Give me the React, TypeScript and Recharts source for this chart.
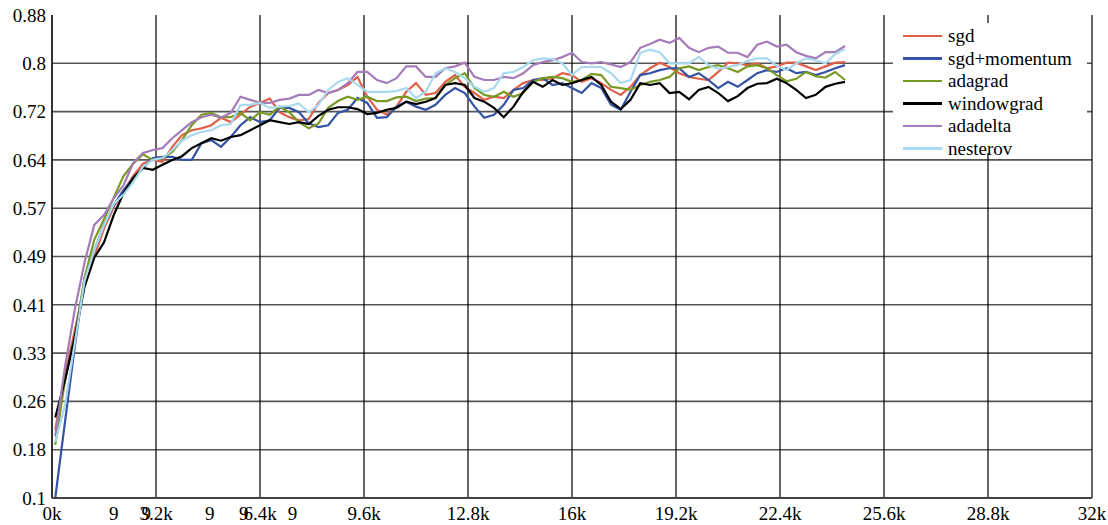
import { LineChart, Line, XAxis, YAxis, CartesianGrid, Legend } from 'recharts';

// iteration at which each accuracy sample was taken
const iterations = Array.from({ length: 82 }, (_, i) => 100 + i * 300);

const sgd = [
  0.21, 0.3, 0.37, 0.445, 0.49, 0.535, 0.57, 0.595, 0.62, 0.64,
  0.646, 0.643, 0.667, 0.686, 0.694, 0.697, 0.702, 0.714, 0.707, 0.719,
  0.732, 0.738, 0.745, 0.723, 0.715, 0.71, 0.712, 0.738, 0.754, 0.759,
  0.767, 0.78, 0.748, 0.727, 0.719, 0.732, 0.756, 0.77, 0.751, 0.754,
  0.772, 0.783, 0.764, 0.754, 0.743, 0.748, 0.746, 0.759, 0.77, 0.775,
  0.775, 0.778, 0.786, 0.783, 0.772, 0.778, 0.77, 0.759, 0.751, 0.764,
  0.783, 0.794, 0.803, 0.796, 0.786, 0.78, 0.777, 0.775, 0.788, 0.803,
  0.802, 0.799, 0.802, 0.794, 0.797, 0.803, 0.803, 0.797, 0.791, 0.797,
  0.803, 0.804,
];

const sgdMomentum = [
  0.1, 0.223, 0.344, 0.455, 0.5, 0.541, 0.573, 0.597, 0.617, 0.633,
  0.649, 0.651, 0.651, 0.646, 0.646, 0.673, 0.678, 0.667, 0.683, 0.702,
  0.715, 0.707, 0.71, 0.73, 0.73, 0.723, 0.705, 0.699, 0.702, 0.722,
  0.727, 0.746, 0.738, 0.714, 0.715, 0.732, 0.74, 0.732, 0.727, 0.735,
  0.751, 0.762, 0.754, 0.732, 0.714, 0.719, 0.735, 0.759, 0.762, 0.775,
  0.778, 0.767, 0.77, 0.762, 0.754, 0.77, 0.762, 0.735, 0.727, 0.756,
  0.783, 0.786, 0.791, 0.794, 0.794, 0.78, 0.786, 0.775, 0.762, 0.772,
  0.764, 0.775, 0.786, 0.791, 0.788, 0.794, 0.786, 0.788, 0.783, 0.788,
  0.794, 0.799,
];

const adagrad = [
  0.186, 0.29, 0.36, 0.455, 0.517, 0.55, 0.585, 0.62, 0.64, 0.655,
  0.646, 0.649, 0.659, 0.678, 0.702, 0.719, 0.722, 0.715, 0.715, 0.722,
  0.71, 0.723, 0.719, 0.732, 0.723, 0.707, 0.697, 0.705, 0.73, 0.741,
  0.748, 0.743, 0.748, 0.741, 0.741, 0.747, 0.748, 0.741, 0.745, 0.746,
  0.767, 0.778, 0.786, 0.762, 0.751, 0.748, 0.756, 0.748, 0.754, 0.772,
  0.778, 0.78, 0.778, 0.772, 0.775, 0.785, 0.783, 0.764, 0.762, 0.759,
  0.767, 0.772, 0.775, 0.78, 0.794, 0.797, 0.791, 0.796, 0.799, 0.794,
  0.788, 0.797, 0.799, 0.794, 0.783, 0.773, 0.777, 0.788, 0.781, 0.779,
  0.788, 0.775,
];

const windowgrad = [
  0.23, 0.29, 0.36, 0.441, 0.488, 0.513, 0.557, 0.592, 0.617, 0.633,
  0.63, 0.638, 0.646, 0.652, 0.665, 0.673, 0.681, 0.677, 0.683, 0.686,
  0.694, 0.702, 0.71, 0.707, 0.704, 0.707, 0.704, 0.717, 0.727, 0.731,
  0.731, 0.728, 0.72, 0.722, 0.727, 0.73, 0.74, 0.736, 0.74, 0.746,
  0.767, 0.77, 0.767, 0.746, 0.74, 0.73, 0.715, 0.732, 0.756, 0.772,
  0.764, 0.775, 0.767, 0.77, 0.775, 0.78, 0.767, 0.74, 0.728, 0.743,
  0.77, 0.767, 0.77, 0.754, 0.756, 0.744, 0.759, 0.764, 0.754, 0.741,
  0.749, 0.762, 0.769, 0.77, 0.777, 0.77, 0.759, 0.746, 0.751, 0.764,
  0.769, 0.772,
];

const adadelta = [
  0.2, 0.312, 0.404, 0.48, 0.541, 0.557, 0.584, 0.605, 0.641, 0.657,
  0.662, 0.665, 0.681, 0.694, 0.707, 0.715, 0.719, 0.714, 0.722, 0.748,
  0.743, 0.738, 0.738, 0.743, 0.745, 0.751, 0.751, 0.759, 0.754, 0.759,
  0.77, 0.788, 0.788, 0.775, 0.77, 0.778, 0.797, 0.797, 0.78, 0.78,
  0.794, 0.797, 0.803, 0.78, 0.775, 0.775, 0.78, 0.778, 0.786, 0.799,
  0.804, 0.807, 0.812, 0.819, 0.804, 0.802, 0.804, 0.8, 0.796, 0.804,
  0.827, 0.833, 0.84, 0.835, 0.843, 0.827, 0.82, 0.827, 0.829, 0.819,
  0.819, 0.812, 0.832, 0.837, 0.829, 0.832, 0.82, 0.814, 0.81, 0.82,
  0.82, 0.83,
];

const nesterov = [
  0.19, 0.25, 0.35, 0.45, 0.5, 0.54, 0.575, 0.59, 0.61, 0.635,
  0.646, 0.649, 0.662, 0.677, 0.686, 0.691, 0.694, 0.702, 0.704, 0.735,
  0.735, 0.738, 0.73, 0.732, 0.733, 0.737, 0.723, 0.735, 0.759, 0.772,
  0.778, 0.767, 0.756, 0.756, 0.756, 0.757, 0.762, 0.746, 0.756, 0.786,
  0.794, 0.788, 0.778, 0.764, 0.756, 0.762, 0.786, 0.788, 0.796, 0.807,
  0.81, 0.809, 0.802, 0.783, 0.796, 0.796, 0.796, 0.786, 0.77, 0.775,
  0.819, 0.824, 0.82, 0.802, 0.802, 0.802, 0.812, 0.799, 0.793, 0.796,
  0.799, 0.806, 0.81, 0.81, 0.798, 0.791, 0.802, 0.81, 0.807, 0.802,
  0.817, 0.825,
];

const yTicks = [0.1, 0.178, 0.256, 0.334, 0.412, 0.49, 0.568, 0.646, 0.724, 0.802, 0.88];
const yLabels = ['0.1', '0.18', '0.26', '0.33', '0.41', '0.49', '0.57', '0.64', '0.72', '0.8', '0.88'];

const xGridTicks = [0, 3200, 6400, 9600, 12800, 16000, 19200, 22400, 25600, 28800, 32000];
// stray "9" labels that sit between the first few ticks
const strayTicks = [1900, 2900, 4850, 5900, 7400];
const xTicks = [...xGridTicks, ...strayTicks].sort((a, b) => a - b);

const series = [
  { key: 'sgd', name: 'sgd', color: '#e0604a' },
  { key: 'sgdMomentum', name: 'sgd+momentum', color: '#3553a5' },
  { key: 'adagrad', name: 'adagrad', color: '#789a24' },
  { key: 'windowgrad', name: 'windowgrad', color: '#000000' },
  { key: 'adadelta', name: 'adadelta', color: '#a57bb9' },
  { key: 'nesterov', name: 'nesterov', color: '#a9d9ee' },
];

const data = iterations.map((it, i) => ({
  it,
  sgd: sgd[i],
  sgdMomentum: sgdMomentum[i],
  adagrad: adagrad[i],
  windowgrad: windowgrad[i],
  adadelta: adadelta[i],
  nesterov: nesterov[i],
}));

const FONT = 'Times New Roman, Liberation Serif, Tinos, DejaVu Serif, serif';

const fmtX = (v: number) => (strayTicks.includes(v) ? '9' : `${v / 1000}k`);
const fmtY = (v: number) => {
  const i = yTicks.indexOf(v);
  return i >= 0 ? yLabels[i] : String(v);
};

const renderLegend = () => (
  <div style={{ background: '#fff', width: 194, height: 130, fontFamily: FONT, fontSize: 19 }}>
    {series.map((s, i) => (
      <div
        key={s.key}
        style={{ position: 'absolute', left: 10, top: 2 + i * 22.5, height: 22, display: 'flex', alignItems: 'center' }}
      >
        <span style={{ display: 'inline-block', width: 39, height: 2.5, background: s.color, marginRight: 6 }} />
        <span style={{ lineHeight: '22px', color: '#000' }}>{s.name}</span>
      </div>
    ))}
  </div>
);

export default function App() {
  return (
    <div style={{ position: 'absolute', left: 0, top: 0, width: 1108, height: 525, background: '#fff' }}>
      <LineChart width={1108} height={525} data={data} margin={{ top: 15, right: 16, bottom: 0, left: 0 }}>
        <CartesianGrid
          vertical={false}
          horizontalValues={yTicks.slice(0, -1)}
          stroke="#555"
          strokeWidth={1.6}
        />
        <CartesianGrid horizontal={false} verticalValues={xGridTicks} stroke="#000" strokeWidth={1.2} />
        <XAxis
          dataKey="it"
          type="number"
          domain={[0, 32000]}
          ticks={xTicks}
          interval={0}
          tickFormatter={fmtX}
          height={27}
          tickLine={false}
          tickSize={6}
          tickMargin={3}
          axisLine={{ stroke: '#444', strokeWidth: 2 }}
          tick={{ fill: '#000', fontFamily: FONT, fontSize: 19 }}
        />
        <YAxis
          type="number"
          domain={[0.1, 0.88]}
          ticks={yTicks}
          interval={0}
          tickFormatter={fmtY}
          width={52}
          tickLine={false}
          tickSize={6}
          tickMargin={0}
          axisLine={{ stroke: '#222', strokeWidth: 1.5 }}
          tick={{ fill: '#000', fontFamily: FONT, fontSize: 19 }}
        />
        <Legend
          layout="vertical"
          align="center"
          verticalAlign="middle"
          content={renderLegend}
          wrapperStyle={{ position: 'absolute', left: 893, top: 23, width: 194, height: 130 }}
        />
        {series.map((s) => (
          <Line
            key={s.key}
            dataKey={s.key}
            name={s.name}
            stroke={s.color}
            strokeWidth={2.2}
            dot={false}
            isAnimationActive={false}
          />
        ))}
      </LineChart>
    </div>
  );
}
